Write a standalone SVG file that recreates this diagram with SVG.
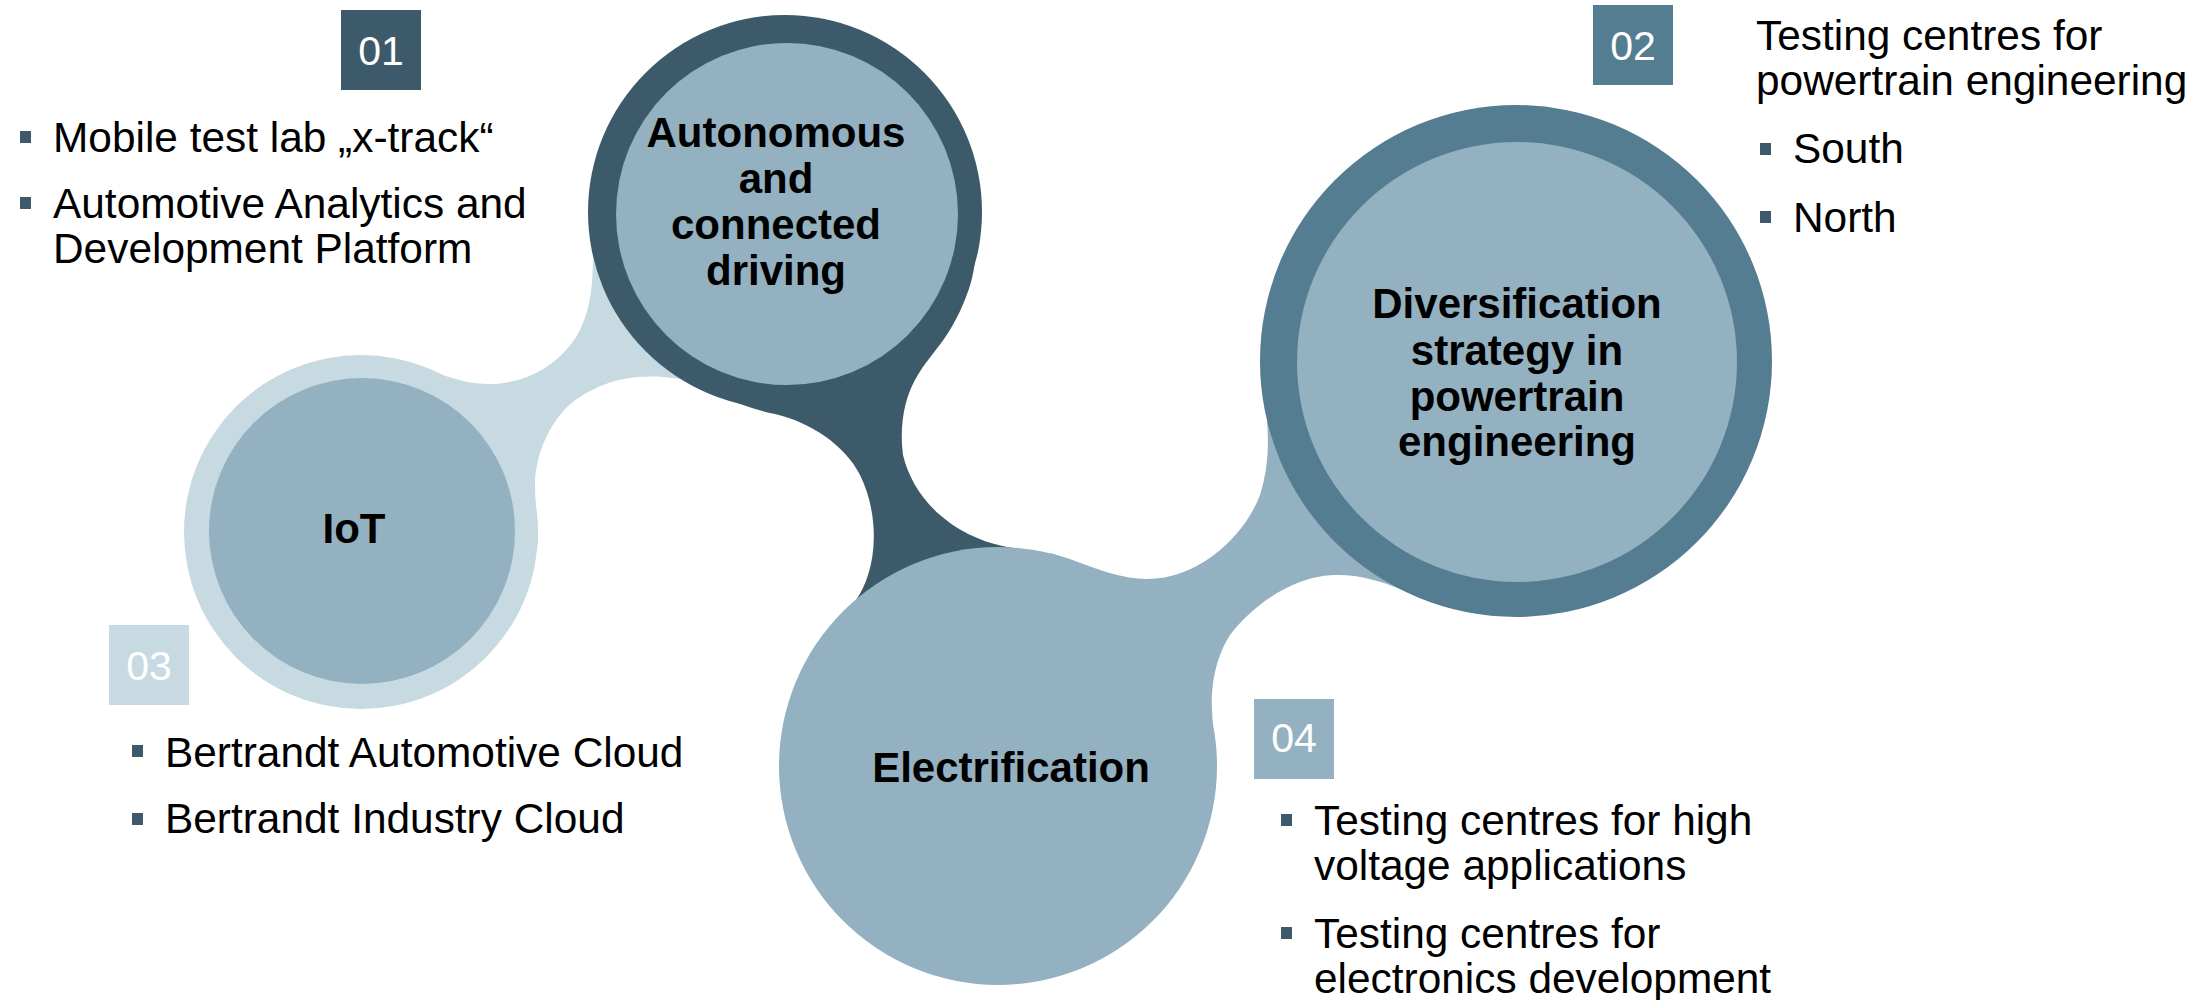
<svg xmlns="http://www.w3.org/2000/svg" width="2198" height="1000" viewBox="0 0 2198 1000">
<style>
.t{font-family:"Liberation Sans",Arial,sans-serif;font-size:42.4px;fill:#000}
.b{font-family:"Liberation Sans",Arial,sans-serif;font-size:42px;font-weight:bold;fill:#000;text-anchor:middle}
.n{font-family:"Liberation Sans",Arial,sans-serif;font-size:41px;fill:#fff;text-anchor:middle}
.bul{fill:#3D5A6B}
.dark{fill:#3D5A6B}
.med{fill:#557D91}
.lt{fill:#93B1C1}
.vlt{fill:#C7D9E1}
</style>
<rect width="2198" height="1000" fill="#fff"/>
<g id="connectors">
<path class="vlt" d="M 400 420 L 430 370 C 455 380 470 384 490 384 C 530 384 565 360 580 330 C 592 305 593 280 593 250 L 700 300 L 680 379 C 660 376 650 376 637 377 C 605 380 580 395 567 407 C 545 430 535 460 535 485 C 535 505 538 520 538 545 L 450 470 Z"/>
<path class="dark" d="M 680 378 C 710 392 745 408 775 414 C 810 422 845 445 860 475 C 875 505 878 545 868 575 C 862 595 852 605 843 617 L 1013 548 C 960 540 915 505 903 455 C 899 425 905 398 915 380 C 925 362 935 352 944 339 C 956 322 966 300 971 282 C 973 275 974 268 975 260 L 785 300 Z"/>
<path class="lt" d="M 1050 600 L 1050 553 C 1085 563 1115 579 1147 579 C 1200 579 1245 535 1260 495 C 1268 470 1269 445 1267 420 L 1350 450 L 1410 593 C 1385 582 1360 574 1333 575 C 1290 577 1250 608 1230 635 C 1214 660 1211 690 1212 710 C 1213 735 1216 750 1217 766 L 1100 700 Z"/>
</g>
<g id="node-iot">
<circle class="vlt" cx="361" cy="532" r="177"/>
<circle class="lt" cx="362" cy="531" r="153"/>
<text class="b" x="354" y="543">IoT</text>
</g>
<g id="node-autonomous">
<circle class="dark" cx="785" cy="212" r="197"/>
<circle class="lt" cx="787" cy="214" r="171"/>
<text class="b" x="776" y="147">Autonomous</text>
<text class="b" x="776" y="193">and</text>
<text class="b" x="776" y="239">connected</text>
<text class="b" x="776" y="285">driving</text>
</g>
<g id="node-electrification">
<circle class="lt" cx="998" cy="766" r="219"/>
<text class="b" x="1011" y="782">Electrification</text>
</g>
<g id="node-diversification">
<circle class="med" cx="1516" cy="361" r="256"/>
<circle class="lt" cx="1517" cy="362" r="220"/>
<text class="b" x="1517" y="318">Diversification</text>
<text class="b" x="1517" y="365">strategy in</text>
<text class="b" x="1517" y="411">powertrain</text>
<text class="b" x="1517" y="456">engineering</text>
</g>
<g id="label-01">
<rect class="dark" x="341" y="10" width="80" height="80"/>
<text class="n" x="381" y="65">01</text>
<rect class="bul" x="20" y="131" width="11" height="12"/>
<text class="t" x="53" y="152">Mobile test lab „x-track“</text>
<rect class="bul" x="20" y="197" width="11" height="12"/>
<text class="t" x="53" y="218">Automotive Analytics and</text>
<text class="t" x="53" y="263">Development Platform</text>
</g>
<g id="label-02">
<rect class="med" x="1593" y="5" width="80" height="80"/>
<text class="n" x="1633" y="60">02</text>
<text class="t" x="1756" y="50">Testing centres for</text>
<text class="t" x="1756" y="95">powertrain engineering</text>
<rect class="bul" x="1760" y="143" width="11" height="12"/>
<text class="t" x="1793" y="163">South</text>
<rect class="bul" x="1760" y="211" width="11" height="12"/>
<text class="t" x="1793" y="232">North</text>
</g>
<g id="label-03">
<rect class="vlt" x="109" y="625" width="80" height="80"/>
<text class="n" x="149" y="680">03</text>
<rect class="bul" x="132" y="745" width="11" height="12"/>
<text class="t" x="165" y="767">Bertrandt Automotive Cloud</text>
<rect class="bul" x="132" y="813" width="11" height="12"/>
<text class="t" x="165" y="833">Bertrandt Industry Cloud</text>
</g>
<g id="label-04">
<rect class="lt" x="1254" y="699" width="80" height="80"/>
<text class="n" x="1294" y="752">04</text>
<rect class="bul" x="1281" y="814" width="11" height="12"/>
<text class="t" x="1314" y="835">Testing centres for high</text>
<text class="t" x="1314" y="880">voltage applications</text>
<rect class="bul" x="1281" y="927" width="11" height="12"/>
<text class="t" x="1314" y="948">Testing centres for</text>
<text class="t" x="1314" y="993">electronics development</text>
</g>
</svg>
